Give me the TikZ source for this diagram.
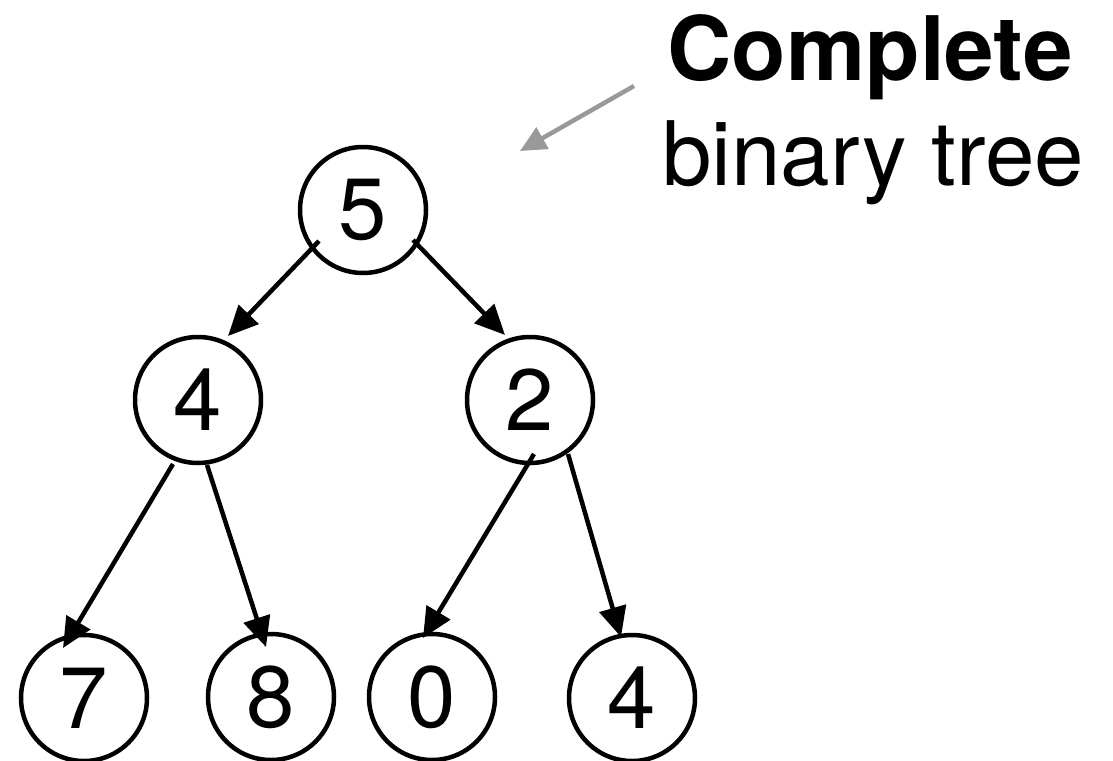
\documentclass[tikz,border=0pt]{standalone}
\usepackage{fontspec}
\setmainfont{TeX Gyre Heros}
\usetikzlibrary{arrows.meta,calc}

\begin{document}
\begin{tikzpicture}[x=1pt,y=-1pt,
  treenode/.style={circle,draw=black,line width=4.5pt,minimum size=126pt,
    inner sep=0pt,outer sep=0pt,font=\fontsize{87}{87}\selectfont},
  edge/.style={line width=4.5pt,-{Triangle[length=30pt,width=27pt]}},
  callout/.style={line width=4.5pt,draw=black!40,
    -{Triangle[length=26pt,width=24pt]}},
  caption/.style={anchor=base,inner sep=0pt,font=\fontsize{89}{89}\selectfont}]

\useasboundingbox (0,0) rectangle (1113,760);

% tree nodes
\node[treenode] (n5)  at (363,210) {5};
\node[treenode] (n4)  at (198,400) {4};
\node[treenode] (n2)  at (530,400) {2};
\node[treenode] (n7)  at (84,698)  {7};
\node[treenode] (n8)  at (271,697) {8};
\node[treenode] (n0)  at (432,697) {0};
\node[treenode] (n4b) at (632,698) {4};

% parent -> child edges
\draw[edge] ($(n5)+(-44,31)$)  -- ($(n4)+(30,-64)$);
\draw[edge] ($(n5)+(50,30)$)   -- ($(n2)+(-25,-65)$);
\draw[edge] ($(n4)+(-25,64)$)  -- ($(n7)+(-21,-50)$);
\draw[edge] ($(n4)+(9,65)$)    -- ($(n8)+(-5,-50)$);
\draw[edge] ($(n2)+(4,54)$)    -- ($(n0)+(-9,-59)$);
\draw[edge] ($(n2)+(38,54)$)   -- ($(n4b)+(-11,-61)$);

% caption and pointer
\node[caption] (cap1) at (870,80) {\bfseries Complete};
\node[caption] (cap2) at (873,185) {binary tree};
\coordinate (ptr-from) at (634,86);
\coordinate (ptr-to) at (520,151);
\draw[callout] (ptr-from) -- (ptr-to);
\end{tikzpicture}
\end{document}
